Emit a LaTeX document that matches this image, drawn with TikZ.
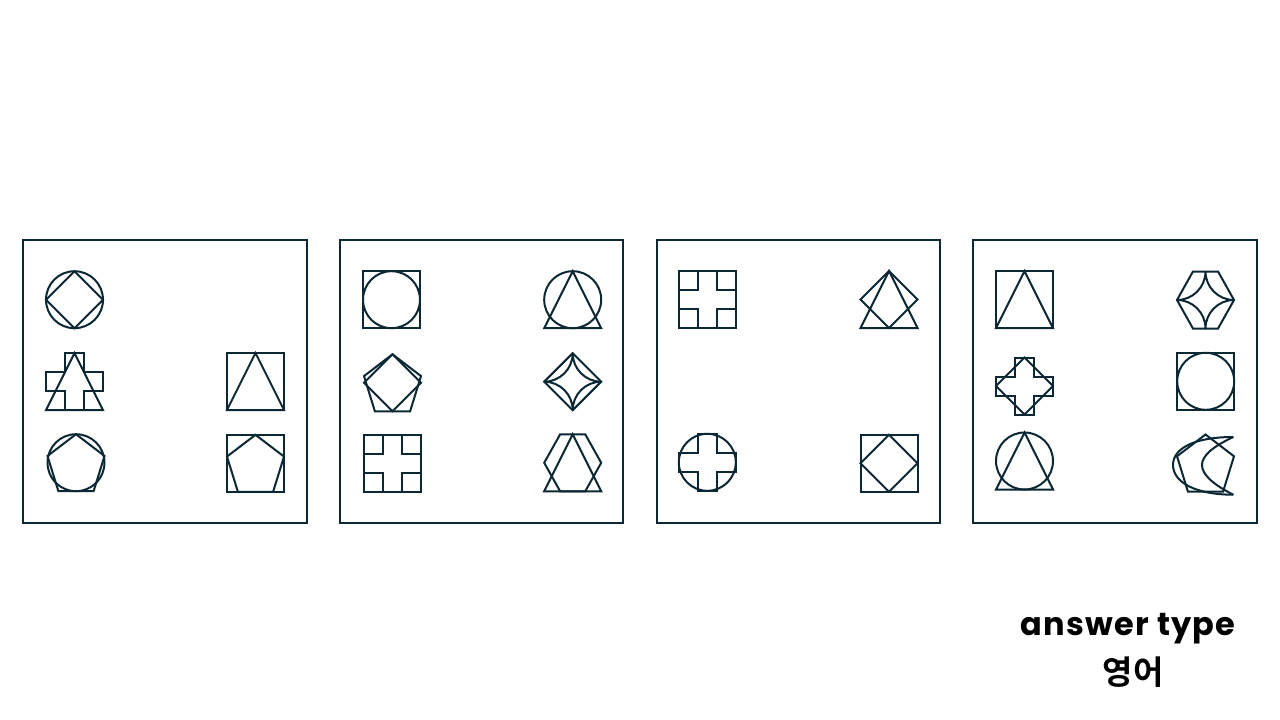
\documentclass[tikz,border=0pt]{standalone}
\usepackage{fontspec}
\newfontfamily\latfont{Poppins}[LetterSpace=4]
\newfontfamily\krfont{Noto Sans CJK KR Bold}
\definecolor{ink}{RGB}{12,40,52}
\def\hs{28.5}
\tikzset{
  shp/.style={draw=ink, line width=2pt, line join=miter},
  crv/.style={draw=ink, line width=2pt, line join=round},
  panel/.style={draw=ink, line width=2.2pt},
  lbl/.style={text=black, inner sep=0pt},
  pics/sq/.style={code={\draw[shp] (-\hs,-\hs) rectangle (\hs,\hs);}},
  pics/circ/.style={code={\draw[shp] (0,0) circle[radius=\hs pt];}},
  pics/dia/.style={code={\draw[shp] (0,-\hs) -- (\hs,0) -- (0,\hs) -- (-\hs,0) -- cycle;}},
  pics/tri/.style={code={\draw[shp] (0,-\hs) -- (\hs,\hs) -- (-\hs,\hs) -- cycle;}},
  pics/pent/.style={code={\draw[shp] (0,-\hs) -- (\hs,-0.236*\hs) -- (0.618*\hs,\hs) -- (-0.618*\hs,\hs) -- (-\hs,-0.236*\hs) -- cycle;}},
  pics/hex/.style={code={\draw[shp] (-0.44*\hs,-\hs) -- (0.44*\hs,-\hs) -- (\hs,0) -- (0.44*\hs,\hs) -- (-0.44*\hs,\hs) -- (-\hs,0) -- cycle;}},
  pics/crs/.style={code={\draw[shp] (-\hs/3,-\hs) -- (\hs/3,-\hs) -- (\hs/3,-\hs/3) -- (\hs,-\hs/3) -- (\hs,\hs/3) -- (\hs/3,\hs/3) -- (\hs/3,\hs) -- (-\hs/3,\hs) -- (-\hs/3,\hs/3) -- (-\hs,\hs/3) -- (-\hs,-\hs/3) -- (-\hs/3,-\hs/3) -- cycle;}},
  pics/astr/.style={code={\draw[crv] (0,-\hs) .. controls (0,-0.448*\hs) and (-0.448*\hs,0) .. (-\hs,0) .. controls (-0.448*\hs,0) and (0,0.448*\hs) .. (0,\hs) .. controls (0,0.448*\hs) and (0.448*\hs,0) .. (\hs,0) .. controls (0.448*\hs,0) and (0,-0.448*\hs) .. (0,-\hs);}},
}
\begin{document}
\begin{tikzpicture}[x=1pt,y=-1pt]
\useasboundingbox[fill=white] (0,0) rectangle (1280,720);
% panels
\draw[panel] (23,240) rectangle (307,523);
\draw[panel] (340,240) rectangle (623,523);
\draw[panel] (657,240) rectangle (940,523);
\draw[panel] (973,240) rectangle (1257,523);
% panel 1
\pic at (74.5,299.7) {circ}; \pic at (74.5,299.7) {dia};
\pic at (74.5,381.7) {crs};  \pic at (74.5,381.7) {tri};
\pic at (255.5,381.5) {sq};  \pic at (255.5,381.5) {tri};
\pic at (76,462.7) {circ};   \pic at (76,462.7) {pent};
\pic at (255.5,463.3) {sq};  \pic at (255.5,463.3) {pent};
% panel 2
\pic at (391.5,299.7) {sq};  \pic at (391.5,299.7) {circ};
\pic at (572.7,299.7) {circ}; \pic at (572.7,299.7) {tri};
\pic at (392.5,382.8) {pent}; \pic at (392.5,382.8) {dia};
\pic at (572.7,381.7) {dia};  \pic at (572.7,381.7) {astr};
\pic at (392.3,463.3) {sq};   \pic at (392.3,463.3) {crs};
\pic at (572.7,462.8) {hex};  \pic at (572.7,462.8) {tri};
% panel 3
\pic at (707.7,299.7) {sq};   \pic at (707.7,299.7) {crs};
\pic at (889,299.5) {tri};    \pic at (889,299.5) {dia};
\pic at (707.3,462.3) {circ}; \pic at (707.3,462.3) {crs};
\pic at (889,463.3) {sq};     \pic at (889,463.3) {dia};
% panel 4
\pic at (1024.5,299.7) {sq};  \pic at (1024.5,299.7) {tri};
\pic at (1205.5,300) {hex};   \pic at (1205.5,300) {astr};
\pic at (1024.5,386) {crs};   \pic at (1024.5,386) {dia};
\pic at (1205.7,381.3) {sq};  \pic at (1205.7,381.3) {circ};
\pic at (1024.5,461) {circ};  \pic at (1024.5,461) {tri};
\pic at (1205.5,463) {pent};
\draw[crv] (1233.3,437) .. controls (1195,437) and (1173,448) .. (1173,465) .. controls (1173,482) and (1195,494.7) .. (1233.3,494.7);
\draw[crv] (1233.3,437) .. controls (1212,447) and (1202,456) .. (1202,465) .. controls (1202,474) and (1212,484) .. (1233.3,494.7);
% labels
\node[lbl, font=\latfont\bfseries\fontsize{32}{36}\selectfont] (ans) at (1128,629) {answer type};
\node[lbl, font=\krfont\fontsize{33}{36}\selectfont] (kor) at (1133,672) {영어};
\end{tikzpicture}
\end{document}
